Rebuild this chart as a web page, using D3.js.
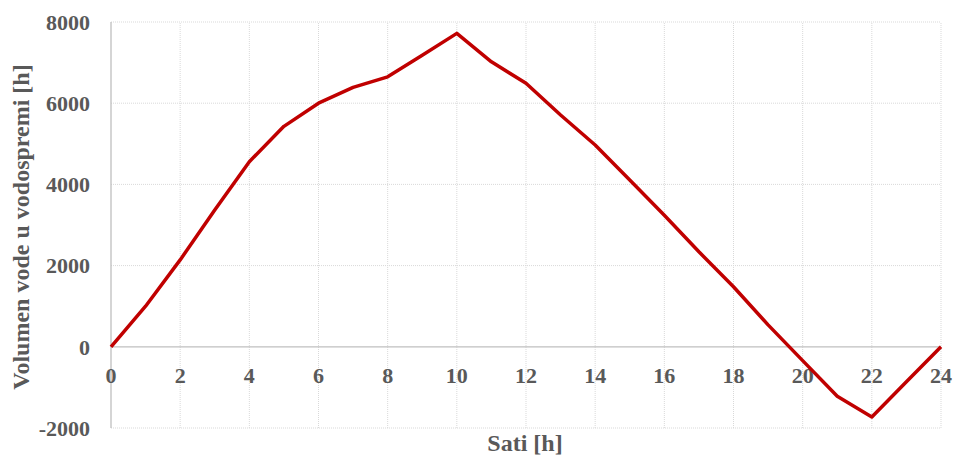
<!DOCTYPE html>
<html><head><meta charset="utf-8">
<script src="https://cdn.jsdelivr.net/npm/d3@7"></script>
<style>body{margin:0;background:#fff}svg{display:block}</style>
</head><body>
<svg id="c" width="954" height="460"></svg>
<script>
const hours = [0,1,2,3,4,5,6,7,8,9,10,11,12,13,14,15,16,17,18,19,20,21,22,23,24];
const volume = [0,1000,2140,3370,4560,5430,6000,6390,6650,7180,7720,7020,6490,5710,4970,4110,3240,2340,1480,540,-340,-1220,-1730,-860,0];
const xTicks = [0,2,4,6,8,10,12,14,16,18,20,22,24];
const yTicks = [-2000,0,2000,4000,6000,8000];
const xTitle = "Sati [h]";
const yTitle = "Volumen vode u vodospremi [h]";

const svg = d3.select("#c");
const x = d3.scaleLinear().domain([0,24]).range([111,941]);
const y = d3.scaleLinear().domain([-2000,8000]).range([428,22]);
const font = "'Liberation Serif','Times New Roman',serif";
const txt = "#595959";

// gridlines
svg.append("g").selectAll("line").data(yTicks.filter(d=>d!==0)).join("line")
  .attr("x1",x(0)).attr("x2",x(24)).attr("y1",d=>y(d)).attr("y2",d=>y(d))
  .attr("stroke","#d9d9d9").attr("stroke-width",1).attr("stroke-dasharray","1,1");
svg.append("g").selectAll("line").data(xTicks.filter(d=>d!==0)).join("line")
  .attr("y1",y(-2000)).attr("y2",y(8000)).attr("x1",d=>x(d)).attr("x2",d=>x(d))
  .attr("stroke","#d9d9d9").attr("stroke-width",1).attr("stroke-dasharray","1,1");
// axes lines
svg.append("line").attr("x1",x(0)).attr("x2",x(24)).attr("y1",y(0)).attr("y2",y(0))
  .attr("stroke","#bfbfbf").attr("stroke-width",1.3);
svg.append("line").attr("x1",x(0)).attr("x2",x(0)).attr("y1",y(-2000)).attr("y2",y(8000))
  .attr("stroke","#bfbfbf").attr("stroke-width",1.3);

// y tick labels
svg.append("g").selectAll("text").data(yTicks).join("text")
  .attr("x",90).attr("y",d=>y(d)).attr("dy","0.35em").attr("text-anchor","end")
  .attr("font-family",font).attr("font-weight","bold").attr("font-size",22).attr("fill",txt)
  .text(d=>d);
// x tick labels
svg.append("g").selectAll("text").data(xTicks).join("text")
  .attr("x",d=>x(d)).attr("y",y(0)+28).attr("dy","0.35em").attr("text-anchor","middle")
  .attr("font-family",font).attr("font-weight","bold").attr("font-size",22).attr("fill",txt)
  .text(d=>d);

// titles
svg.append("text").attr("x",525).attr("y",443).attr("dy","0.35em").attr("text-anchor","middle")
  .attr("font-family",font).attr("font-weight","bold").attr("font-size",24).attr("fill",txt).text(xTitle);
svg.append("text").attr("transform","translate(21,227) rotate(-90)").attr("dy","0.35em").attr("text-anchor","middle")
  .attr("font-family",font).attr("font-weight","bold").attr("font-size",24).attr("fill",txt).text(yTitle);

// line
svg.append("path").datum(hours.map((h,i)=>[h,volume[i]]))
  .attr("fill","none").attr("stroke","#c00000").attr("stroke-width",3.5)
  .attr("stroke-linejoin","round")
  .attr("d",d3.line().x(d=>x(d[0])).y(d=>y(d[1])));
</script>
</body></html>
